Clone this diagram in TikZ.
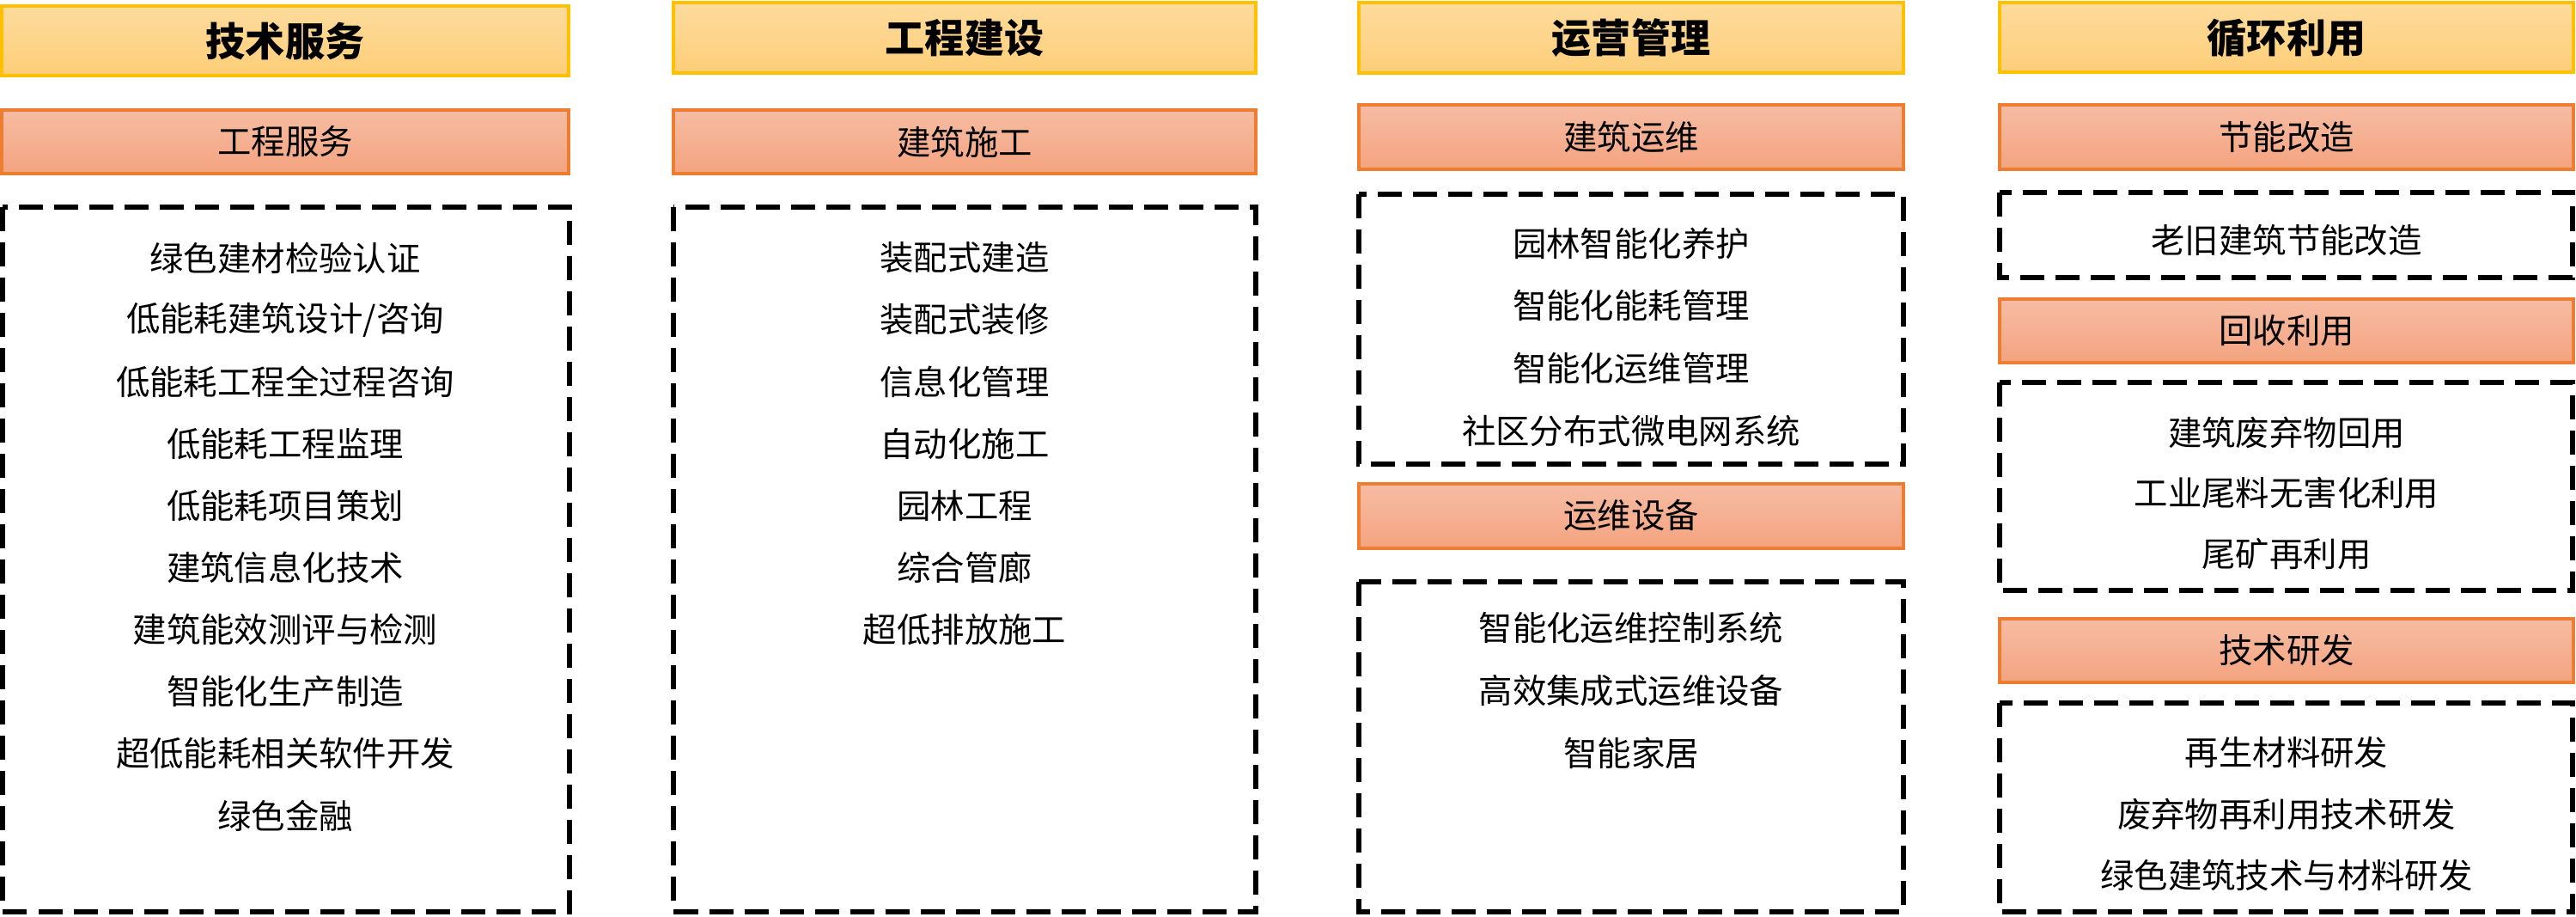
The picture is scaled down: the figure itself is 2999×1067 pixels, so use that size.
\documentclass[tikz,border=0pt]{standalone}
\usepackage{fontspec}
\setmainfont{Noto Sans CJK SC}
\definecolor{headtop}{HTML}{FDDB9D}
\definecolor{headbot}{HTML}{FDCE78}
\definecolor{headline}{HTML}{FFC000}
\definecolor{subtop}{HTML}{F6BCA3}
\definecolor{subbot}{HTML}{F4A37F}
\definecolor{subline}{HTML}{ED7D31}
\begin{document}
\begin{tikzpicture}[x=.01cm, y=-.01cm,
  head/.style={draw=headline, line width=1.1pt, top color=headtop, bottom color=headbot},
  sub/.style={draw=subline, line width=1.1pt, top color=subtop, bottom color=subbot},
  group/.style={draw, line width=1.5pt, dash pattern=on .28cm off .13cm},
  htxt/.style={inner sep=0, font=\fontsize{13.1}{15}\selectfont\bfseries},
  txt/.style={inner sep=0, font=\fontsize{11.2}{13}\selectfont}]
\useasboundingbox (0,0) rectangle (2999,1067);
% 技术服务
\draw[head] (2,7) rectangle (662,88);
\node[htxt] (h1) at (332,48) {技术服务};
\draw[sub] (2,128) rectangle (662,202);
\node[txt] (s1) at (332,165) {工程服务};
\draw[group] (3,241) rectangle (663,1061);
\foreach \t [count=\i] in {绿色建材检验认证, 低能耗建筑设计/咨询, 低能耗工程全过程咨询, 低能耗工程监理, 低能耗项目策划, 建筑信息化技术, 建筑能效测评与检测, 智能化生产制造, 超低能耗相关软件开发, 绿色金融}
  \node[txt] (a\i) at (332,{300+72.1*(\i-1)}) {\t};
% 工程建设
\draw[head] (784,3) rectangle (1462,85);
\node[htxt] (h2) at (1123,44) {工程建设};
\draw[sub] (784,128) rectangle (1462,202);
\node[txt] (s2) at (1123,165) {建筑施工};
\draw[group] (784,241) rectangle (1462,1061);
\foreach \t [count=\i] in {装配式建造, 装配式装修, 信息化管理, 自动化施工, 园林工程, 综合管廊, 超低排放施工}
  \node[txt] (b\i) at (1123,{300+72.1*(\i-1)}) {\t};
% 运营管理
\draw[head] (1582,3) rectangle (2216,85);
\node[htxt] (h3) at (1899,44) {运营管理};
\draw[sub] (1582,122) rectangle (2216,197);
\node[txt] (s31) at (1899,160) {建筑运维};
\draw[group] (1582,226) rectangle (2216,540);
\foreach \t [count=\i] in {园林智能化养护, 智能化能耗管理, 智能化运维管理, 社区分布式微电网系统}
  \node[txt] (c\i) at (1899,{283+72.7*(\i-1)}) {\t};
\draw[sub] (1582,563) rectangle (2216,638);
\node[txt] (s32) at (1899,600) {运维设备};
\draw[group] (1582,677) rectangle (2216,1061);
\foreach \t [count=\i] in {智能化运维控制系统, 高效集成式运维设备, 智能家居}
  \node[txt] (d\i) at (1899,{731+72.5*(\i-1)}) {\t};
% 循环利用
\draw[head] (2328,3) rectangle (2996,84);
\node[htxt] (h4) at (2662,44) {循环利用};
\draw[sub] (2328,122) rectangle (2996,197);
\node[txt] (s41) at (2662,160) {节能改造};
\draw[group] (2328,224) rectangle (2995,323);
\node[txt] (e1) at (2662,280) {老旧建筑节能改造};
\draw[sub] (2328,348) rectangle (2996,422);
\node[txt] (s42) at (2662,385) {回收利用};
\draw[group] (2328,445) rectangle (2995,687);
\foreach \t [count=\i] in {建筑废弃物回用, 工业尾料无害化利用, 尾矿再利用}
  \node[txt] (f\i) at (2662,{503+71*(\i-1)}) {\t};
\draw[sub] (2328,720) rectangle (2996,794);
\node[txt] (s43) at (2662,757) {技术研发};
\draw[group] (2328,818) rectangle (2995,1061);
\foreach \t [count=\i] in {再生材料研发, 废弃物再利用技术研发, 绿色建筑技术与材料研发}
  \node[txt] (g\i) at (2662,{876+71.5*(\i-1)}) {\t};
\end{tikzpicture}
\end{document}
